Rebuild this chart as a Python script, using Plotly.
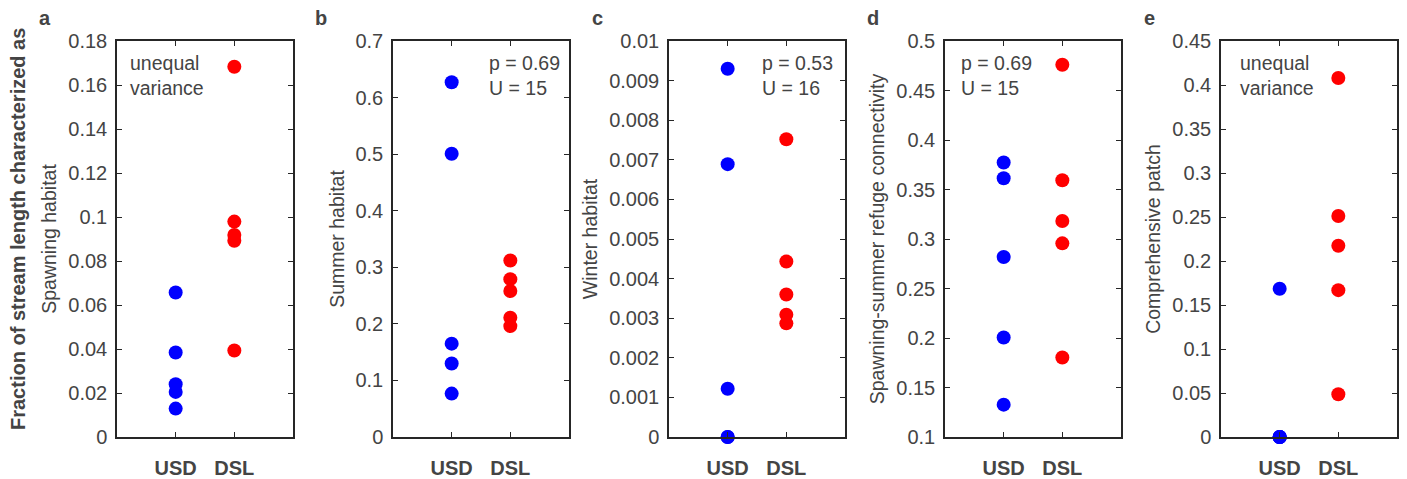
import plotly.graph_objects as go

categories = ["USD", "DSL"]
panel_letters = ["a", "b", "c", "d", "e"]
y_titles = ["Spawning habitat", "Summer habitat", "Winter habitat",
            "Spawning-summer refuge connectivity", "Comprehensive patch"]
notes = ["unequal<br>variance", "p = 0.69<br>U = 15", "p = 0.53<br>U = 16",
         "p = 0.69<br>U = 15", "unequal<br>variance"]

usd_a = [0.0657, 0.0384, 0.0240, 0.0205, 0.0129]
dsl_a = [0.1683, 0.0979, 0.0918, 0.0892, 0.0393]
usd_b = [0.627, 0.5006, 0.165, 0.130, 0.0767]
dsl_b = [0.312, 0.279, 0.258, 0.211, 0.196]
usd_c = [0.0093, 0.00689, 0.00122, 0.0, 0.0]
dsl_c = [0.00752, 0.00443, 0.00360, 0.00309, 0.00287]
usd_d = [0.3772, 0.3614, 0.2818, 0.2005, 0.1327]
dsl_d = [0.476, 0.3594, 0.3182, 0.2956, 0.1803]
usd_e = [0.1684, 0.0, 0.0, 0.0, 0.0]
dsl_e = [0.408, 0.2511, 0.2174, 0.1669, 0.0486]

usd_all = [usd_a, usd_b, usd_c, usd_d, usd_e]
dsl_all = [dsl_a, dsl_b, dsl_c, dsl_d, dsl_e]

y_ranges = [(0, 0.18), (0, 0.7), (0, 0.01), (0.1, 0.5), (0, 0.45)]
y_dtick = [0.02, 0.1, 0.001, 0.05, 0.05]
note_dx = [11, 94, 91, 14, 17]

W, H = 1407, 479
FONT = "Liberation Sans, Arial, Helvetica, sans-serif"
GREY = "#444444"
AXC = "#262626"

left_px = [117, 393, 669, 945, 1221]
box_w = 176
top_px, bot_px = 41, 437

fig = go.Figure()
layout = dict(
    width=W, height=H, margin=dict(l=0, r=0, t=0, b=0, autoexpand=False),
    paper_bgcolor="white", plot_bgcolor="white", showlegend=False,
    font=dict(family=FONT, size=20, color=GREY),
)
annotations = []
for i in range(5):
    n = i + 1
    xa = "x" if n == 1 else f"x{n}"
    ya = "y" if n == 1 else f"y{n}"
    xkey = "xaxis" if n == 1 else f"xaxis{n}"
    ykey = "yaxis" if n == 1 else f"yaxis{n}"
    x0 = left_px[i] / W
    x1 = (left_px[i] + box_w) / W
    y0 = 1 - bot_px / H
    y1 = 1 - top_px / H
    fig.add_trace(go.Scatter(
        x=[1] * len(usd_all[i]), y=usd_all[i], mode="markers",
        marker=dict(color="#0000FF", size=14, line=dict(width=0)),
        xaxis=xa, yaxis=ya, cliponaxis=False))
    fig.add_trace(go.Scatter(
        x=[2] * len(dsl_all[i]), y=dsl_all[i], mode="markers",
        marker=dict(color="#FF0000", size=14, line=dict(width=0)),
        xaxis=xa, yaxis=ya, cliponaxis=False))
    layout[xkey] = dict(
        domain=[x0, x1], range=[0, 3], anchor=ya, automargin=False,
        tickmode="array", tickvals=[1, 2],
        ticktext=[f"<b>{c}</b>" for c in categories],
        ticks="inside", ticklen=5, tickwidth=1.3, tickcolor=AXC,
        showline=True, linecolor=AXC, linewidth=1.5, mirror="ticks",
        showgrid=False, zeroline=False, ticklabelstandoff=12,
        tickfont=dict(family=FONT, size=20, color=GREY), fixedrange=True)
    layout[ykey] = dict(
        domain=[y0, y1], range=list(y_ranges[i]), anchor=xa, automargin=False,
        dtick=y_dtick[i], tick0=y_ranges[i][0],
        ticks="inside", ticklen=5, tickwidth=1.3, tickcolor=AXC,
        showline=True, linecolor=AXC, linewidth=1.5, mirror="ticks",
        showgrid=False, zeroline=False, ticklabelstandoff=4,
        tickfont=dict(family=FONT, size=20, color=GREY),
        title=dict(text=y_titles[i], font=dict(family=FONT, size=19.5, color=GREY),
                   standoff=6),
        fixedrange=True)
    annotations.append(dict(
        text=f"<b>{panel_letters[i]}</b>", xref="paper", yref="paper",
        x=(left_px[i] - 72) / W, y=1 - 18 / H, xanchor="center", yanchor="middle",
        showarrow=False, font=dict(family=FONT, size=20, color=GREY)))
    annotations.append(dict(
        text=notes[i], xref="paper", yref="paper",
        x=(left_px[i] + note_dx[i]) / W, y=1 - 50 / H,
        xanchor="left", yanchor="top", align="left", showarrow=False,
        font=dict(family=FONT, size=19.5, color=GREY)))

annotations.append(dict(
    text="<b>Fraction of stream length characterized as</b>", xref="paper",
    yref="paper", x=18 / W, y=1 - 229 / H, xanchor="center", yanchor="middle",
    textangle=-90, showarrow=False, font=dict(family=FONT, size=20, color=GREY)))

layout["annotations"] = annotations
fig.update_layout(**layout)
fig.write_html("out.html")
